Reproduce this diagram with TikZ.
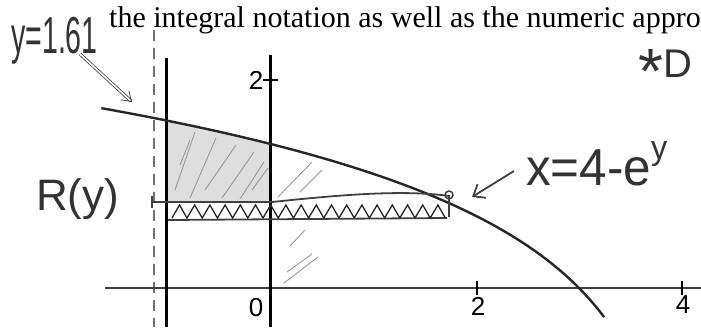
\documentclass[tikz,border=0pt]{standalone}
\usepackage{fontspec}
\setmainfont{Liberation Serif}
\newfontfamily\handf{Liberation Sans}
\usetikzlibrary{arrows.meta}
\begin{document}
\begin{tikzpicture}[x=1pt,y=-1pt,
  axisline/.style={line width=2pt, black!75},
  vline/.style={line width=3pt, black},
  dashline/.style={line width=2.5pt, black!55, dash pattern=on 11pt off 7pt},
  curveline/.style={line width=2.4pt, black!85},
  stripline/.style={line width=1.8pt, black!75},
  zig/.style={line width=1.3pt, black!85},
  hatch/.style={line width=0.9pt, black!40},
  handtext/.style={font=\handf, inner sep=0pt, text=black!80},
  ticklab/.style={font=\handf\fontsize{26}{26}\selectfont, inner sep=0pt},
  tickmark/.style={line width=1.6pt, black}]
\useasboundingbox (0,0) rectangle (701,327);
\clip (0,0) rectangle (701,327);

% shaded part of the region (x from -1 to 0, above the strip)
\fill[black!13] (166,202) -- (270,202) -- (270,145)
  -- plot[domain=1.386:1.609, samples=20, variable=\t] ({270+103*(4-exp(\t))},{288-104*\t}) -- cycle;
\begin{scope}
  \clip (166,202) -- (270,202) -- (270,145)
    -- plot[domain=1.386:1.609, samples=20, variable=\t] ({270+103*(4-exp(\t))},{288-104*\t}) -- cycle;
  \foreach \a/\b/\c/\d in {175/190/195/132, 190/198/216/138, 205/190/236/145,
      222/198/254/152, 240/199/264/162, 180/165/190/140, 252/190/268/168}
    \draw[hatch] (\a,\b) -- (\c,\d);
\end{scope}
% a few hatch strokes elsewhere
\draw[hatch] (278,197) -- (312,162);
\draw[hatch] (300,192) -- (322,170);
\draw[hatch] (284,283) -- (318,257);
\draw[hatch] (287,272) -- (312,254);
\draw[hatch] (290,246) -- (305,230);

% axes and vertical lines
\draw[dashline] (154,30) -- (154,327);
\draw[axisline] (105,288) -- (701,288);
\draw[vline] (166,58) -- (166,327);
\draw[vline] (270,55) -- (270,327);

% ticks
\draw[tickmark] (263,80) -- (278,80);
\draw[tickmark] (477,281) -- (477,295);
\draw[tickmark] (682,281) -- (682,295);
\node[ticklab] (ty2) at (256,80) {2};
\node[ticklab] (tx0) at (256,308) {0};
\node[ticklab] (tx2) at (478,306) {2};
\node[ticklab] (tx4) at (683,305) {4};

% curve x = 4 - e^y
\draw[curveline] plot[domain=-0.28:1.73, samples=80, variable=\t] ({270+103*(4-exp(\t))},{288-104*\t});

% strip R(y)
\draw[stripline] (152,202) -- (272,202) .. controls (330,196) and (400,189) .. (449,196);
\draw[stripline] (152,196) -- (152,208);
\draw[stripline] (168,220) -- (447,218);
\draw[zig] (172,218) \foreach \i in {0,...,17}{ -- ({179.5+15.2*\i},205) -- ({187+15.2*\i},218)};
\draw[line width=1.5pt, black!75] (449,195) circle (4);
\draw[line width=1.5pt, black!75] (449,195) -- (449,217);
\coordinate (isect) at (472,197);
\coordinate (ytip) at (132,102);

% printed text
\node[anchor=base west, inner sep=0pt, font=\fontsize{30}{36}\selectfont] (txt) at (109,27)
  {the integral notation as well as the numeric appro};

% handwritten labels
\node[handtext, anchor=base west, font=\handf\fontsize{52}{52}\selectfont, xscale=0.55] (ylab) at (11,53) {y=1.61};
\node[handtext, anchor=base west, font=\handf\fontsize{44}{44}\selectfont] (rlab) at (36,210) {R(y)};
\node[handtext, anchor=base west, font=\handf\fontsize{52}{52}\selectfont, xscale=0.95] (xlab) at (526,185)
  {x=4-e\raisebox{0.5em}{\fontsize{34}{34}\selectfont y}};
\node[handtext, anchor=base west, font=\handf\fontsize{40}{40}\selectfont] (dlab) at (638,77)
  {\raisebox{-0.42em}{\fontsize{64}{64}\selectfont *}D};

% arrows
\coordinate (ystart) at (80,54);
\draw[black!75, double, double distance=1.6pt, line width=0.8pt, -{Straight Barb[length=9pt,width=12pt]}] (ystart) -- (ytip);
\coordinate (xstart) at (514,171);
\draw[black!75, line width=1.8pt, -{Straight Barb[length=10pt,width=16pt]}] (xstart) -- (isect);
\end{tikzpicture}
\end{document}
